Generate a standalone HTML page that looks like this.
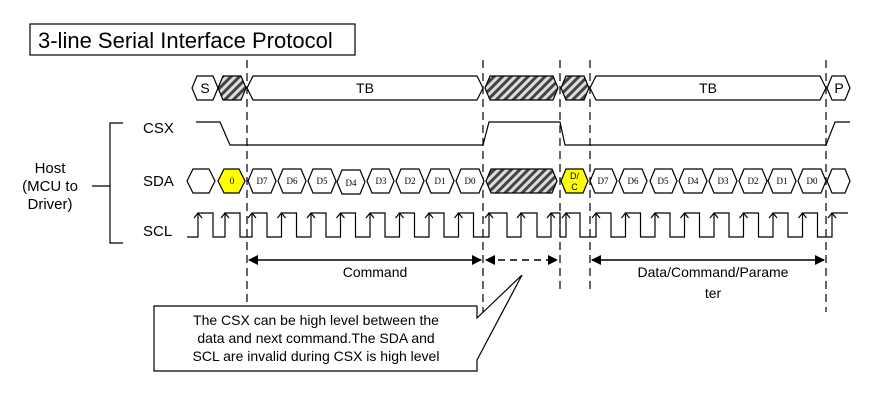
<!DOCTYPE html>
<html><head><meta charset="utf-8"><style>
html,body{margin:0;padding:0;background:#fff;}
svg{display:block;font-family:"Liberation Sans",sans-serif;}
</style></head><body>
<svg width="884" height="401" viewBox="0 0 884 401" xmlns="http://www.w3.org/2000/svg">
<defs>
<pattern id="h" patternUnits="userSpaceOnUse" width="6" height="6" patternTransform="rotate(45)">
<rect width="6" height="6" fill="#ddd"/><rect width="3" height="6" fill="#444"/>
</pattern>
<marker id="a" markerWidth="10" markerHeight="10" refX="9" refY="5" orient="auto-start-reverse" markerUnits="userSpaceOnUse"><path d="M0,0 L10,5 L0,10 Z" fill="#000"/></marker>
</defs>
<rect x="30" y="24" width="325" height="31" fill="#fff" stroke="#000" stroke-width="1.2"/>
<text x="38" y="48" font-size="22">3-line Serial Interface Protocol</text>

<g stroke="#000" stroke-width="1.2" stroke-dasharray="8,5" fill="none">
<line x1="247" y1="60" x2="247" y2="312"/>
<line x1="483" y1="60" x2="483" y2="312"/>
<line x1="560" y1="60" x2="560" y2="292"/>
<line x1="590" y1="60" x2="590" y2="292"/>
<line x1="826" y1="60" x2="826" y2="312"/>
</g>

<g stroke="#000" stroke-width="1.2" fill="#fff">
<!-- top row -->
<polygon points="192,88 197,76 213,76 218,88 213,100 197,100"/>
<polygon points="218,88 223,76 241,76 246,88 241,100 223,100" fill="url(#h)"/>
<polygon points="247,88 253,76 477,76 483,88 477,100 253,100"/>
<polygon points="485,88 490,76 553,76 558,88 553,100 490,100" fill="url(#h)"/>
<polygon points="561,88 566,76 584,76 589,88 584,100 566,100" fill="url(#h)"/>
<polygon points="590,88 596,76 820,76 826,88 820,100 596,100"/>
<polygon points="827,88 832,76 845,76 850,88 845,100 832,100"/>
<!-- CSX -->
<polyline fill="none" points="196,122 220,122 230,145 483,145 489,122 560,122 565,145 826,145 835,122 850,122"/>
<!-- SDA -->
<polygon points="187,181 193,169 209,169 215,181 209,193 193,193"/>
<polygon points="218,181 224,169 239,169 245,181 239,193 224,193" fill="#ffff00"/>
<polygon points="486,181 491,169 552,169 557,181 552,193 491,193" fill="url(#h)"/>
<polygon points="561,181 566,169 583,169 588,181 583,193 566,193" fill="#ffff00"/>
<polygon points="827,181 832,169 845,169 850,181 845,193 832,193"/>
</g>
<g id="sda" stroke="#000" stroke-width="1.2" fill="#fff" font-family="Liberation Serif,serif" font-size="9">
</g>
<g stroke="#000" stroke-width="1.2" fill="#fff">
<polygon points="248,181 253,169 271,169 276,181 271,193 253,193"/>
<polygon points="278,181 283,169 301,169 306,181 301,193 283,193"/>
<polygon points="308,181 313,169 331,169 336,181 331,193 313,193"/>
<polygon points="337,182 342,170 360,170 365,182 360,194 342,194"/>
<polygon points="367,181 372,169 389,169 394,181 389,193 372,193"/>
<polygon points="396,181 401,169 419,169 424,181 419,193 401,193"/>
<polygon points="426,181 431,169 449,169 454,181 449,193 431,193"/>
<polygon points="456,181 461,169 479,169 484,181 479,193 461,193"/>
<polygon points="590,181 595,169 612,169 617,181 612,193 595,193"/>
<polygon points="619,181 624,169 642,169 647,181 642,193 624,193"/>
<polygon points="650,181 655,169 672,169 677,181 672,193 655,193"/>
<polygon points="679,181 684,169 702,169 707,181 702,193 684,193"/>
<polygon points="709,181 714,169 732,169 737,181 732,193 714,193"/>
<polygon points="739,181 744,169 762,169 767,181 762,193 744,193"/>
<polygon points="768,181 773,169 791,169 796,181 791,193 773,193"/>
<polygon points="798,181 803,169 821,169 826,181 821,193 803,193"/>
</g>
<g font-family="Liberation Serif,serif" font-size="9" text-anchor="middle" fill="#000">
<text x="232" y="184">0</text>
<text x="262" y="184">D7</text><text x="292" y="184">D6</text><text x="322" y="184">D5</text>
<text x="351" y="186">D4</text><text x="381" y="184">D3</text><text x="410" y="184">D2</text>
<text x="440" y="184">D1</text><text x="470" y="184">D0</text>
<text x="603" y="184">D7</text><text x="633" y="184">D6</text><text x="663" y="184">D5</text>
<text x="693" y="184">D4</text><text x="723" y="184">D3</text><text x="753" y="184">D2</text>
<text x="782" y="184">D1</text><text x="812" y="184">D0</text>
</g>
<g font-size="9" text-anchor="middle"><text x="574.5" y="179">D/</text><text x="574.5" y="190">C</text></g>

<g font-size="14" text-anchor="middle">
<text x="205" y="93">S</text><text x="365" y="93">TB</text><text x="708" y="93">TB</text><text x="839" y="93">P</text>
</g>
<g font-size="15">
<text x="143" y="133">CSX</text><text x="143" y="186">SDA</text><text x="143" y="236">SCL</text>
</g>
<g font-size="15" text-anchor="middle">
<text x="50" y="173">Host</text><text x="50" y="191">(MCU to</text><text x="50" y="209">Driver)</text>
</g>
<polyline points="123,123 110,123 110,243 123,243" fill="none" stroke="#000" stroke-width="1.2"/>
<line x1="92" y1="186" x2="110" y2="186" stroke="#000" stroke-width="1.2"/>

<!-- SCL -->
<path id="scl" fill="none" stroke="#000" stroke-width="1.2" d="M187,237 L198,237 L198,213 L213,213 L213,237 L225,237 L225,213 L240,213 L240,237 L252,237 L252,213 L267,213 L267,237 L281.5,237 L281.5,213 L296.5,213 L296.5,237 L311,237 L311,213 L326,213 L326,237 L340.5,237 L340.5,213 L355.5,213 L355.5,237 L370,237 L370,213 L385,213 L385,237 L399.5,237 L399.5,213 L414.5,213 L414.5,237 L429,237 L429,213 L444,213 L444,237 L458.5,237 L458.5,213 L473.5,213 L473.5,237 L489,237 L489,213 L507,213 L507,237 L521,237 L521,213 L537,213 L537,237 L551,237 L551,213 L560,213 L560,237 L566,237 L566,213 L580,213 L580,237 L596,237 L596,213 L611,213 L611,237 L625.5,237 L625.5,213 L640.5,213 L640.5,237 L655,237 L655,213 L670,213 L670,237 L684.5,237 L684.5,213 L699.5,213 L699.5,237 L714,237 L714,213 L729,213 L729,237 L743.5,237 L743.5,213 L758.5,213 L758.5,237 L773,237 L773,213 L788,213 L788,237 L802.5,237 L802.5,213 L817.5,213 L817.5,237 L832,237 L832,213 L848,213"/>
<g fill="none" stroke="#000" stroke-width="1.2">
<path d="M198,213 l-4,5 M198,213 l4,5 M225,213 l-4,5 M225,213 l4,5 M252,213 l-4,5 M252,213 l4,5 M281.5,213 l-4,5 M281.5,213 l4,5 M311,213 l-4,5 M311,213 l4,5 M340.5,213 l-4,5 M340.5,213 l4,5 M370,213 l-4,5 M370,213 l4,5 M399.5,213 l-4,5 M399.5,213 l4,5 M429,213 l-4,5 M429,213 l4,5 M458.5,213 l-4,5 M458.5,213 l4,5 M489,213 l-4,5 M489,213 l4,5 M521,213 l-4,5 M521,213 l4,5 M551,213 l-4,5 M551,213 l4,5 M566,213 l-4,5 M566,213 l4,5 M596,213 l-4,5 M596,213 l4,5 M625.5,213 l-4,5 M625.5,213 l4,5 M655,213 l-4,5 M655,213 l4,5 M684.5,213 l-4,5 M684.5,213 l4,5 M714,213 l-4,5 M714,213 l4,5 M743.5,213 l-4,5 M743.5,213 l4,5 M773,213 l-4,5 M773,213 l4,5 M802.5,213 l-4,5 M802.5,213 l4,5 M832,213 l-4,5 M832,213 l4,5"/>
</g>

<!-- bottom arrows -->
<g stroke="#000" stroke-width="1.5">
<line x1="249" y1="260" x2="481" y2="260" marker-start="url(#a)" marker-end="url(#a)"/>
<line x1="486" y1="260" x2="557" y2="260" stroke-dasharray="7,5" marker-start="url(#a)" marker-end="url(#a)"/>
<line x1="592" y1="260" x2="824" y2="260" marker-start="url(#a)" marker-end="url(#a)"/>
</g>
<g font-size="14" text-anchor="middle">
<text x="375" y="277">Command</text>
<text x="713" y="277">Data/Command/Parame</text>
<text x="713" y="298">ter</text>
</g>
<polygon points="154,306 477,306 477,318 522,275 477,360 477,371 154,371" fill="#fff" stroke="#000" stroke-width="1.2"/>
<g font-size="14" text-anchor="middle">
<text x="316" y="325">The CSX can be high level between the</text>
<text x="316" y="343">data and next command.The SDA and</text>
<text x="316" y="361">SCL are invalid during CSX is high level</text>
</g>
</svg>
</body></html>
